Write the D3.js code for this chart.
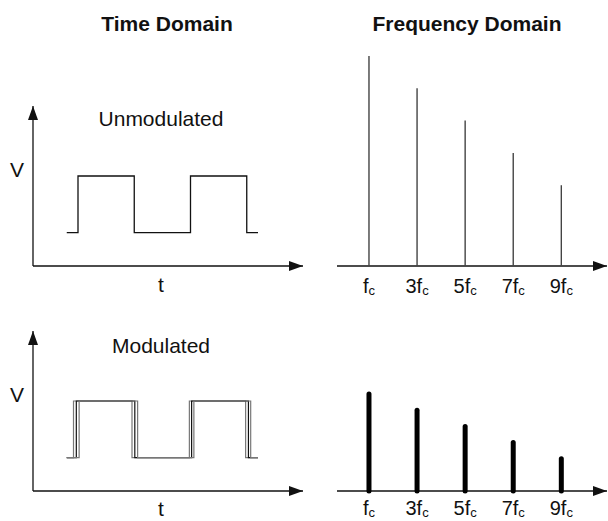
<!DOCTYPE html>
<html>
<head>
<meta charset="utf-8">
<script src="https://cdn.jsdelivr.net/npm/d3@7"></script>
<style>
  body { margin: 0; background: #fff; }
  text { font-family: "Liberation Sans", Arial, sans-serif; fill: #111; }
</style>
</head>
<body>
<div id="chart"></div>
<script>
/* time domain: edge times of the square wave, and the level after each edge */
const wave_times = [0, 1, 6, 11, 16, 17];
const wave_levels = [1, 2.7, 1, 2.7, 1, 1];
/* modulated: three jittered traces */
const mod_traces = [
    [0, 0.6, 5.8, 10.9, 15.9, 17],
    [0, 0.85, 6.05, 11.1, 16.15, 17],
    [0, 1.1, 6.3, 11.3, 16.35, 17]
];
const mod_colors = ["#777", "#111", "#777"];

/* frequency domain */
const harmonics = [1, 3, 5, 7, 9];
const harmonic_labels = ["", "3", "5", "7", "9"];
const amp_unmodulated = [6.5, 5.5, 4.5, 3.5, 2.5];
const amp_modulated = [3, 2.5, 2, 1.5, 1];

const titles = ["Time Domain", "Frequency Domain"];
const panel_names = ["Unmodulated", "Modulated"];

const W = 608, H = 521;
const svg = d3.select("#chart").append("svg")
    .attr("width", W).attr("height", H);

const defs = svg.append("defs");
defs.append("marker")
    .attr("id", "arrow")
    .attr("viewBox", "0 0 14 10")
    .attr("refX", 14).attr("refY", 5)
    .attr("markerWidth", 14).attr("markerHeight", 10)
    .attr("markerUnits", "userSpaceOnUse")
    .attr("orient", "auto")
    .append("path").attr("d", "M0,0 L14,5 L0,10 Z").attr("fill", "#111");

/* scales */
const t = d3.scaleLinear().domain([-3, 21]).range([33, 303]);
const v = d3.scaleLinear().domain([0, 4.8]).range([0, -160]);
const f = d3.scaleLinear().domain([-0.33, 10.9]).range([337, 607]);
const a = d3.scaleLinear().domain([0, 6.5]).range([0, -210]);

/* titles */
svg.append("text").attr("x", 167).attr("y", 31)
    .attr("text-anchor", "middle").attr("font-weight", "bold").attr("font-size", 21)
    .text(titles[0]);
svg.append("text").attr("x", 467).attr("y", 31)
    .attr("text-anchor", "middle").attr("font-weight", "bold").attr("font-size", 21)
    .text(titles[1]);

function squarePath(times, levels) {
    const pts = [];
    times.forEach((tm, i) => {
        if (i > 0) pts.push([t(tm), v(levels[i - 1])]);
        pts.push([t(tm), v(levels[i])]);
    });
    return d3.line()(pts);
}

function drawPanel(y0, idx) {
    const g = svg.append("g").attr("transform", `translate(0, ${y0})`);

    /* time axes */
    g.append("line")
        .attr("x1", t(-3)).attr("y1", 0).attr("x2", t(-3)).attr("y2", v(4.8))
        .attr("stroke", "#111").attr("stroke-width", 1.3)
        .attr("marker-end", "url(#arrow)");
    g.append("line")
        .attr("x1", t(-3)).attr("y1", 0).attr("x2", t(21)).attr("y2", 0)
        .attr("stroke", "#111").attr("stroke-width", 1.3)
        .attr("marker-end", "url(#arrow)");

    g.append("text").attr("x", 17).attr("y", v(2.7) + 1)
        .attr("text-anchor", "middle").attr("font-size", 21).text("V");
    g.append("text").attr("x", 161).attr("y", idx === 0 ? 26 : 25)
        .attr("text-anchor", "middle").attr("font-size", 21).text("t");
    g.append("text").attr("x", 161).attr("y", idx === 0 ? -140 : -138)
        .attr("text-anchor", "middle").attr("font-size", 21).text(panel_names[idx]);

    /* waves */
    if (idx === 0) {
        g.append("path").attr("d", squarePath(wave_times, wave_levels))
            .attr("fill", "none").attr("stroke", "#111").attr("stroke-width", 1.3);
    } else {
        mod_traces.forEach((tr, i) => {
            g.append("path").attr("d", squarePath(tr, wave_levels))
                .attr("fill", "none").attr("stroke", mod_colors[i]).attr("stroke-width", 1.2);
        });
    }

    /* frequency axis */
    g.append("line")
        .attr("x1", f(-0.33)).attr("y1", 0).attr("x2", f(10.9)).attr("y2", 0)
        .attr("stroke", "#111").attr("stroke-width", 1.3)
        .attr("marker-end", "url(#arrow)");

    const amps = idx === 0 ? amp_unmodulated : amp_modulated;
    g.selectAll(".spike").data(harmonics).join("line")
        .attr("x1", d => f(d)).attr("x2", d => f(d))
        .attr("y1", 0).attr("y2", (d, i) => a(amps[i]))
        .attr("stroke", idx === 0 ? "#444" : "#000")
        .attr("stroke-width", idx === 0 ? 1.4 : 5)
        .attr("stroke-linecap", idx === 0 ? "butt" : "round");

    const lab = g.selectAll(".lab").data(harmonics).join("text")
        .attr("x", d => f(d)).attr("y", idx === 0 ? 27 : 24)
        .attr("text-anchor", "middle").attr("font-size", 20);
    lab.append("tspan").text((d, i) => harmonic_labels[i] + "f");
    lab.append("tspan").attr("font-size", 13).attr("dy", 2).text("c");
}

drawPanel(266, 0);
drawPanel(491, 1);
</script>
</body>
</html>
